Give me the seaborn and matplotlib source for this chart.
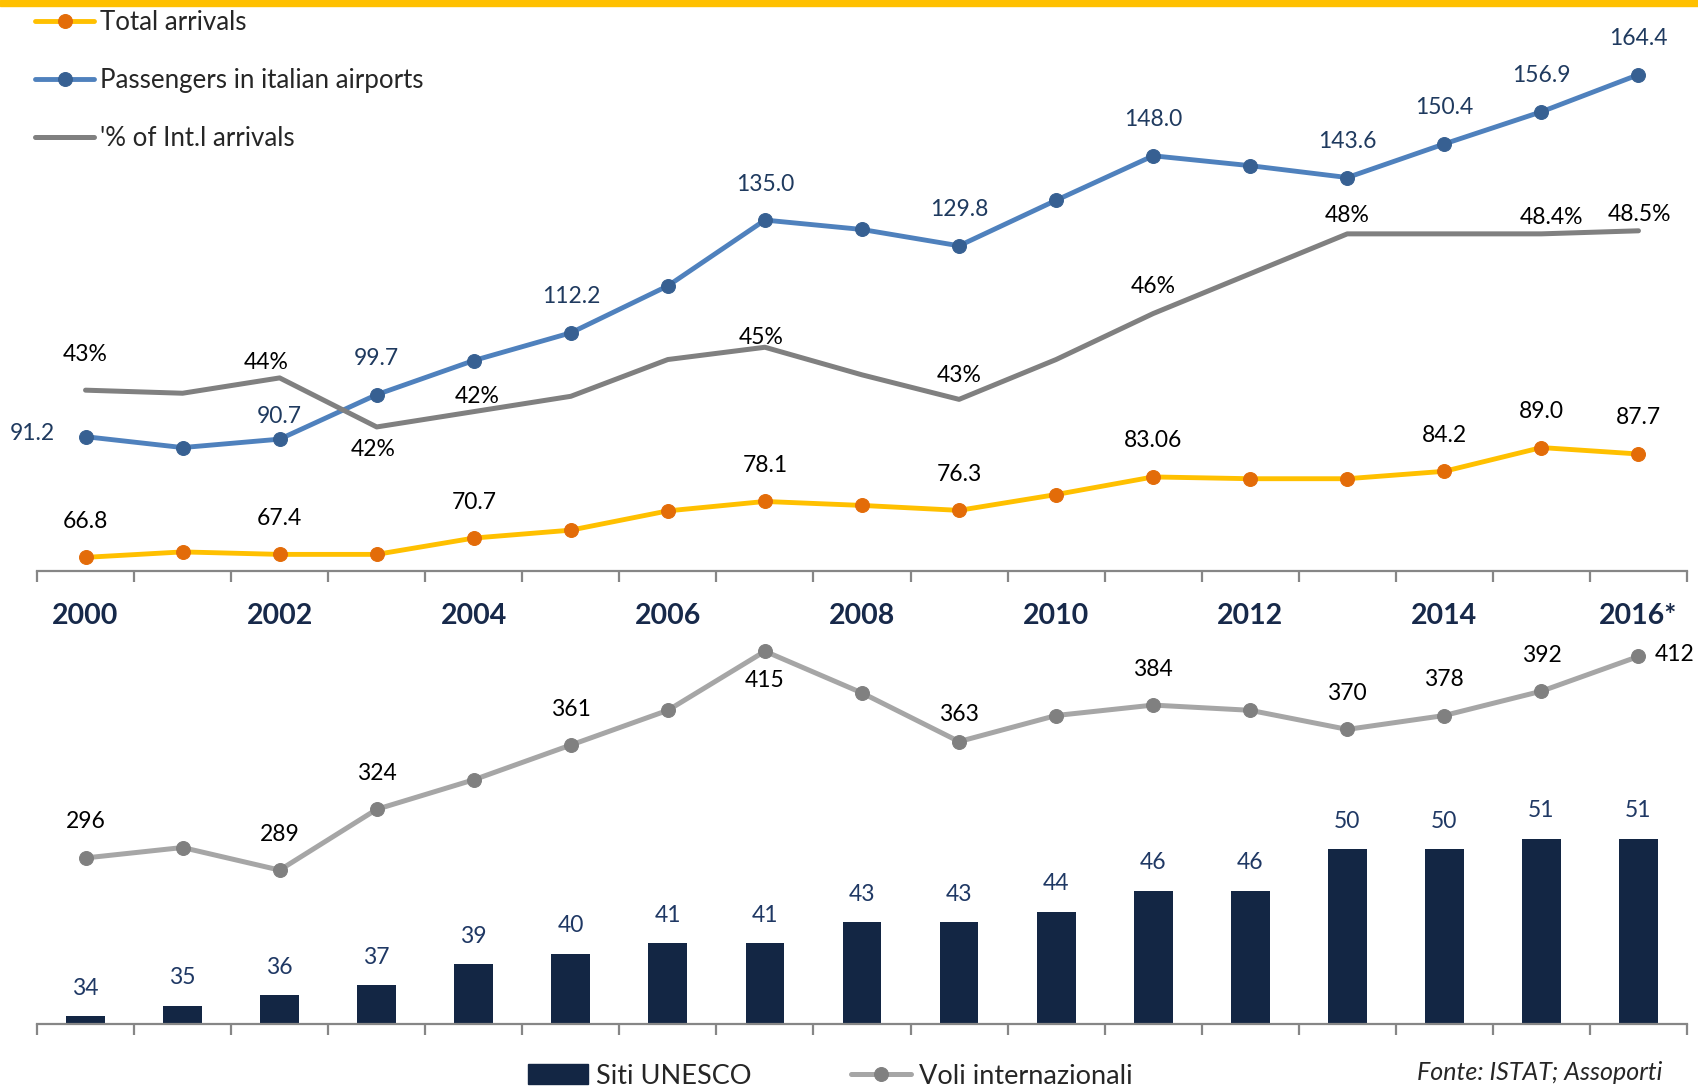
import numpy as np
import pandas as pd
import matplotlib.pyplot as plt
import seaborn as sns
from matplotlib.patches import Rectangle, Patch
from matplotlib.lines import Line2D

# ---------- DATA ----------
years = list(range(2000, 2017))
year_labels = ["2000", "2002", "2004", "2006", "2008", "2010", "2012", "2014", "2016*"]

total_arrivals = [66.8, 67.9, 67.4, 67.4, 70.7, 72.3, 76.2, 78.1, 77.3, 76.3,
                  79.5, 83.06, 82.7, 82.7, 84.2, 89.0, 87.7]
passengers = [91.2, 89.0, 90.7, 99.7, 106.6, 112.2, 121.7, 135.0, 133.1, 129.8,
              139.0, 148.0, 146.0, 143.6, 150.4, 156.9, 164.4]
intl_share = [43.3, 43.2, 43.7, 42.1, 42.6, 43.1, 44.3, 44.7, 43.8, 43.0,
              44.3, 45.8, 47.1, 48.4, 48.4, 48.4, 48.5]

unesco_sites = [34, 35, 36, 37, 39, 40, 41, 41, 43, 43, 44, 46, 46, 50, 50, 51, 51]
intl_flights = [296, 302, 289, 324, 341, 361, 381, 415, 391, 363, 378, 384, 381,
                370, 378, 392, 412]

arr_labels = ["66.8", None, "67.4", None, "70.7", None, None, "78.1", None, "76.3",
              None, "83.06", None, None, "84.2", "89.0", "87.7"]
pax_labels = ["91.2", None, "90.7", "99.7", None, "112.2", None, "135.0", None, "129.8",
              None, "148.0", None, "143.6", "150.4", "156.9", "164.4"]
share_labels = ["43%", None, "44%", "42%", "42%", None, None, "45%", None, "43%",
                None, "46%", None, "48%", None, "48.4%", "48.5%"]
flight_labels = ["296", None, "289", "324", None, "361", None, "415", None, "363",
                 None, "384", None, "370", "378", "392", "412"]

# ---------- STYLE ----------
YELLOW = "#ffc000"
ORANGE = "#e36c09"
BLUE = "#4f81bd"
BLUE_DARK = "#376092"
GRAY = "#808080"
LIGHT_GRAY = "#a6a6a6"
NAVY = "#132644"
AXIS_GRAY = "#868686"

sns.set_style("white")
plt.rcParams['font.family'] = ['Lato', 'DejaVu Sans']

W, H = 1699, 1088
fig = plt.figure(figsize=(W / 100, H / 100), dpi=100)


def px_axes(left, top, right, bottom):
    a = fig.add_axes([left / W, 1 - bottom / H, (right - left) / W, (bottom - top) / H])
    a.patch.set_visible(False)
    return a


def label_points(axis, xs, ys, labels, color, offsets, default=(0, 36), size=16.5):
    for x, y, lab in zip(xs, ys, labels):
        if lab is None:
            continue
        dx, dy = offsets.get(x, default)
        axis.annotate(lab, (x, y), xytext=(dx, dy), textcoords="offset pixels",
                      ha="center", va="center", fontsize=size, color=color,
                      annotation_clip=False)


def style_axis(axis):
    for s in ["top", "left", "right"]:
        axis.spines[s].set_visible(False)
    axis.spines["bottom"].set_color(AXIS_GRAY)
    axis.spines["bottom"].set_linewidth(1.6)
    axis.set_yticks([])
    axis.set_ylabel("")
    axis.set_xlim(1999.5, 2016.5)
    axis.set_xticks(np.arange(1999.5, 2017, 1), minor=True)
    axis.tick_params(which="minor", bottom=True, length=8, width=1.6,
                     color=AXIS_GRAY, direction="out")
    axis.tick_params(which="major", length=0)


# =====================================================
# BOTTOM PANEL
# =====================================================
axb = px_axes(37, 600, 1687, 1024)
axb_line = axb.twinx()

sns.barplot(x=years, y=unesco_sites, ax=axb, native_scale=True, width=0.4,
            color=NAVY, saturation=1, errorbar=None, linewidth=0)
sns.lineplot(x=years, y=intl_flights, ax=axb_line, color=LIGHT_GRAY, linewidth=3.6,
             marker="o", markersize=10, markerfacecolor=GRAY,
             markeredgecolor=GRAY, label="Voli internazionali")

axb.set_ylim(33.27, 73.84)
axb_line.set_ylim(200.4, 444.5)

for a in (axb, axb_line):
    style_axis(a)
    a.set_xticks([])
    if a.get_legend() is not None:
        a.get_legend().remove()
axb_line.spines["bottom"].set_visible(False)
axb_line.tick_params(which="minor", bottom=False)
axb.set_xlabel("")

for x, v in zip(years, unesco_sites):
    axb.annotate(str(v), (x, v), xytext=(0, 28), textcoords="offset pixels",
                 ha="center", va="center", fontsize=16.5, color="#1f3864",
                 annotation_clip=False)

label_points(axb_line, years, intl_flights, flight_labels, "black",
             {2007: (0, -29), 2009: (0, 27), 2016: (36, 2)})

fig.legend(handles=[Patch(color=NAVY), axb_line.lines[0]],
           labels=["Siti UNESCO", "Voli internazionali"],
           loc="center left", bbox_to_anchor=(528 / W, 12 / H), ncol=2,
           frameon=False, fontsize=19.5, handlelength=2.2, handleheight=0.8,
           handletextpad=0.3, columnspacing=3.7, borderpad=0, borderaxespad=0)

fig.text(1417 / W, 4 / H, "Fonte: ISTAT; Assoporti", fontsize=18,
         style="italic", color="#262626", va="bottom")

# =====================================================
# TOP PANEL
# =====================================================
ax = px_axes(37, 0, 1687, 571)
ax_pct = ax.twinx()

sns.lineplot(x=years, y=total_arrivals, ax=ax, color=YELLOW, linewidth=3.5,
             marker="o", markersize=10, markerfacecolor=ORANGE,
             markeredgecolor=ORANGE, label="Total arrivals")
sns.lineplot(x=years, y=passengers, ax=ax, color=BLUE, linewidth=3.5,
             marker="o", markersize=10, markerfacecolor=BLUE_DARK,
             markeredgecolor=BLUE_DARK, label="Passengers in italian airports")
sns.lineplot(x=years, y=intl_share, ax=ax_pct, color=GRAY, linewidth=3.6,
             label="'% of Int.l arrivals")

ax.set_ylim(64.04, 179.5)
ax_pct.set_ylim(37.4, 56.03)

for a in (ax, ax_pct):
    style_axis(a)
    if a.get_legend() is not None:
        a.get_legend().remove()
ax_pct.spines["bottom"].set_visible(False)
ax_pct.tick_params(which="minor", bottom=False)

ax.set_xticks(years[::2])
ax.set_xticklabels(year_labels, fontsize=20.5, fontweight="bold", color="#17294a")
ax.tick_params(which="major", pad=23)

label_points(ax, years, total_arrivals, arr_labels, "black", {})
label_points(ax, years, passengers, pax_labels, "#1f3a5f",
             {2000: (-53, 3), 2002: (0, 23)})
label_points(ax_pct, years, intl_share, share_labels, "black",
             {2002: (-13, 15), 2003: (-4, -23), 2004: (3, 15), 2007: (-4, 10),
              2009: (0, 24), 2011: (0, 27), 2013: (0, 18), 2015: (10, 16),
              2016: (1, 16)})

handles = ax.lines[:2] + ax_pct.lines[:1]
ax_pct.legend(handles=handles, labels=[h.get_label() for h in handles],
              loc="upper left", bbox_to_anchor=(35 / W, 1 - 10 / H),
              bbox_transform=fig.transFigure, frameon=False, fontsize=18.6,
              handlelength=2.3, handletextpad=0.2, labelspacing=1.28,
              borderpad=0, borderaxespad=0)

# ---------- TOP GOLD BAND ----------
fig.add_artist(Rectangle((0, 1 - 6 / H), 1, 6 / H, transform=fig.transFigure,
                         color=YELLOW, zorder=10))

fig.savefig("out.png", dpi=100)
